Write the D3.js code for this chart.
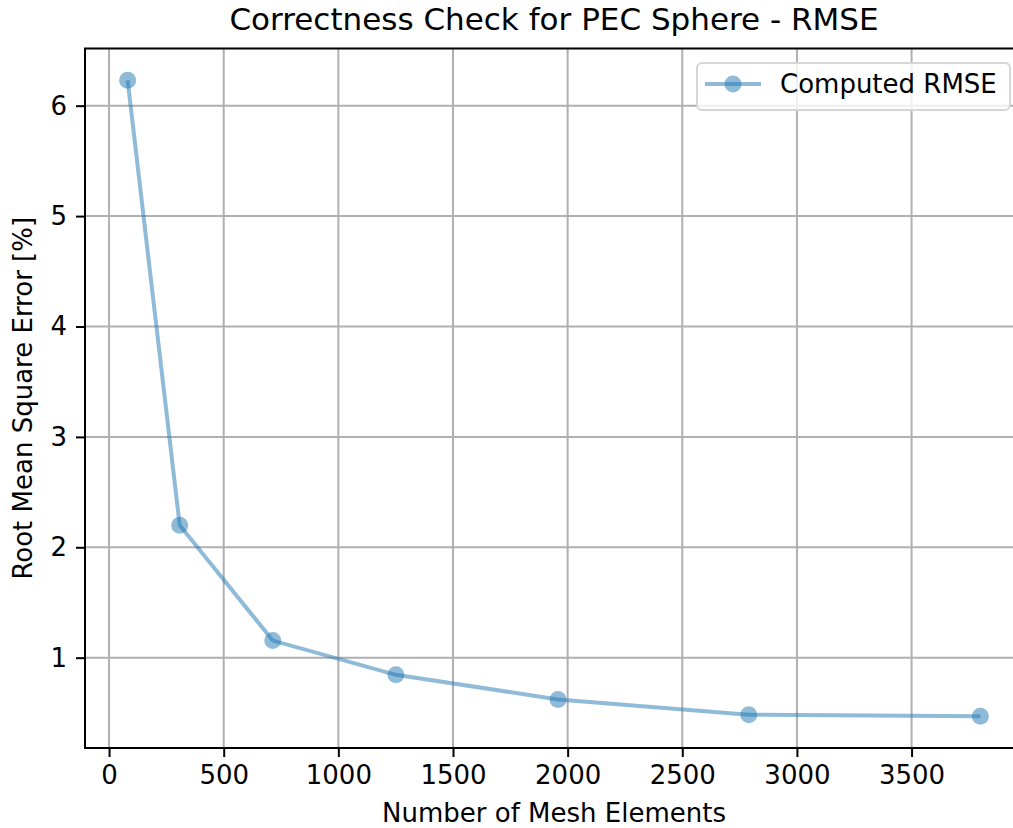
<!DOCTYPE html>
<html lang="en">
    <head>
        <meta charset="utf-8">
        <title>RMSE check</title>
        <script type="text/javascript" src="https://d3js.org/d3.v7.min.js"></script>
        <style>
            body {
                margin: 0;
                background: #fff;
            }
            svg text {
                font-family: "DejaVu Sans", sans-serif;
                fill: #000;
            }
            .axis text {
                font-size: 26px;
            }
        </style>
    </head>
    <body>
        <script>
            // data
            const meshElements = [81, 308, 714, 1251, 1958, 2790, 3800];
            const rmse = [6.23, 2.20, 1.155, 0.845, 0.622, 0.484, 0.470];
            const xTicks = [0, 500, 1000, 1500, 2000, 2500, 3000, 3500];
            const yTicks = [1, 2, 3, 4, 5, 6];
            const seriesName = "Computed RMSE";

            const w = 1013;
            const h = 828;
            const pLeft = 85, pRight = 1023, pTop = 48.5, pBottom = 748;
            const blue = "#1f77b4";

            const svg = d3.select("body")
                        .append("svg")
                        .attr("width", w)
                        .attr("height", h)

            // matplotlib-style 5% margins
            const xExt = d3.extent(meshElements);
            const yExt = d3.extent(rmse);
            const xPad = (xExt[1] - xExt[0]) * 0.05;
            const yPad = (yExt[1] - yExt[0]) * 0.05;

            const xScale = d3.scaleLinear()
                            .domain([xExt[0] - xPad, xExt[1] + xPad])
                            .range([pLeft, pRight])
            const yScale = d3.scaleLinear()
                            .domain([yExt[0] - yPad, yExt[1] + yPad])
                            .range([pBottom, pTop])

            // grid
            svg.append("g")
                .selectAll("line")
                .data(xTicks)
                .join("line")
                .attr("x1", d => xScale(d)).attr("x2", d => xScale(d))
                .attr("y1", pTop).attr("y2", pBottom)
                .attr("stroke", "#b0b0b0").attr("stroke-width", 2)
            svg.append("g")
                .selectAll("line")
                .data(yTicks)
                .join("line")
                .attr("x1", pLeft).attr("x2", pRight)
                .attr("y1", d => yScale(d)).attr("y2", d => yScale(d))
                .attr("stroke", "#b0b0b0").attr("stroke-width", 2)

            // line + markers
            const pts = meshElements.map((x, i) => [x, rmse[i]]);
            const line = d3.line()
                .x(d => xScale(d[0]))
                .y(d => yScale(d[1]));

            svg.append("path")
                .datum(pts)
                .attr("d", line)
                .attr("fill", "none")
                .attr("stroke", blue)
                .attr("stroke-opacity", 0.5)
                .attr("stroke-width", 4)

            svg.append("g")
                .selectAll("circle")
                .data(pts)
                .join("circle")
                .attr("cx", d => xScale(d[0]))
                .attr("cy", d => yScale(d[1]))
                .attr("r", 8.5)
                .attr("fill", blue)
                .attr("fill-opacity", 0.5)

            // axes
            const xAxis = d3.axisBottom(xScale)
                            .tickValues(xTicks)
                            .tickSize(9)
                            .tickPadding(9)
                            .tickFormat(d3.format("d"))
            const yAxis = d3.axisLeft(yScale)
                            .tickValues(yTicks)
                            .tickSize(9)
                            .tickPadding(9)
                            .tickFormat(d3.format("d"))

            svg.append("g")
                .attr("class", "axis")
                .attr("transform", `translate(0,${pBottom})`)
                .call(xAxis)
            svg.append("g")
                .attr("class", "axis")
                .attr("transform", `translate(${pLeft},0)`)
                .call(yAxis)

            svg.selectAll(".axis .domain").remove()
            svg.selectAll(".axis .tick line").attr("stroke", "#000").attr("stroke-width", 2)
            svg.selectAll(".axis text").attr("fill", "#222").attr("font-family", null)

            // spines
            svg.append("rect")
                .attr("x", pLeft).attr("y", pTop)
                .attr("width", pRight - pLeft).attr("height", pBottom - pTop)
                .attr("fill", "none")
                .attr("stroke", "#000")
                .attr("stroke-width", 2)

            // titles
            svg.append("text")
                .attr("x", (pLeft + pRight) / 2)
                .attr("y", 30)
                .attr("text-anchor", "middle")
                .style("font-size", "31px")
                .attr("fill", "#222")
                .text("Correctness Check for PEC Sphere - RMSE")

            svg.append("text")
                .attr("x", (pLeft + pRight) / 2)
                .attr("y", 822)
                .attr("text-anchor", "middle")
                .style("font-size", "26px")
                .attr("fill", "#222")
                .text("Number of Mesh Elements")

            svg.append("text")
                .attr("transform", `translate(32,${(pTop + pBottom) / 2}) rotate(-90)`)
                .attr("text-anchor", "middle")
                .style("font-size", "26px")
                .attr("fill", "#222")
                .text("Root Mean Square Error [%]")

            // legend
            const lg = svg.append("g")
            lg.append("rect")
                .attr("x", 697).attr("y", 63)
                .attr("width", 313).attr("height", 47)
                .attr("rx", 5)
                .attr("fill", "#fff").attr("fill-opacity", 0.8)
                .attr("stroke", "#d6d6d6").attr("stroke-width", 2)
            lg.append("line")
                .attr("x1", 705).attr("x2", 761)
                .attr("y1", 84).attr("y2", 84)
                .attr("stroke", blue).attr("stroke-opacity", 0.5)
                .attr("stroke-width", 4)
            lg.append("circle")
                .attr("cx", 733).attr("cy", 84).attr("r", 8.5)
                .attr("fill", blue).attr("fill-opacity", 0.5)
            lg.append("text")
                .attr("x", 780).attr("y", 93)
                .style("font-size", "26px")
                .attr("fill", "#222")
                .text(seriesName)
        </script>
    </body>
</html>
